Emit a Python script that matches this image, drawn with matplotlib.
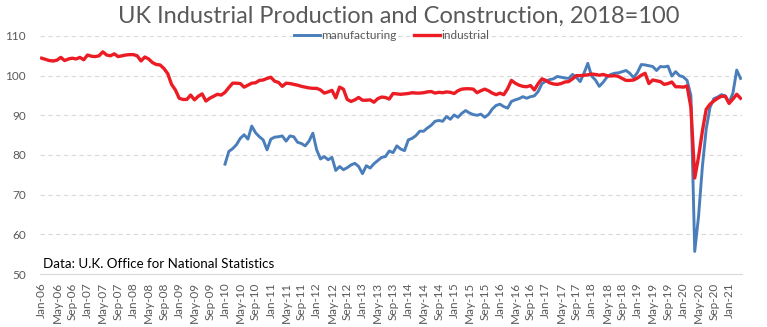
import matplotlib.pyplot as plt
import pandas as pd

# monthly index values, Jan-06 .. Apr-21
months = pd.date_range('2006-01-01', periods=184, freq='MS')

industrial = [
    104.4, 104.1, 103.8, 103.7, 103.9, 104.6, 103.8, 104.2, 104.4, 104.2, 104.6, 104.0,
    105.2, 104.9, 104.8, 105.0, 106.0, 105.2, 105.0, 105.5, 104.8, 105.0, 105.2, 105.3,
    105.3, 105.0, 103.7, 104.7, 104.2, 103.3, 102.8, 102.7, 101.8, 100.5, 97.8, 96.4,
    94.3, 94.0, 94.0, 95.1, 93.9, 94.8, 95.4, 93.6, 94.3, 94.8, 95.3, 95.1,
    95.8, 97.0, 98.1, 98.1, 98.0, 97.1, 97.6, 98.1, 98.2, 98.8, 98.9, 99.3,
    99.6, 98.6, 98.3, 97.3, 98.1, 98.0, 97.8, 97.6, 97.3, 97.1, 96.9, 96.8,
    96.8, 96.4, 95.6, 95.9, 96.3, 94.4, 97.1, 96.6, 94.0, 93.5, 93.9, 94.5,
    93.8, 93.8, 93.9, 93.3, 94.2, 94.6, 94.5, 94.1, 95.5, 95.4, 95.3, 95.4,
    95.5, 95.7, 95.6, 95.6, 95.7, 95.9, 96.0, 95.6, 95.8, 95.7, 95.9, 95.8,
    95.5, 96.2, 96.6, 96.7, 96.7, 96.6, 95.7, 96.2, 96.6, 96.2, 95.6, 95.2,
    95.6, 95.2, 96.7, 98.8, 98.1, 97.6, 97.3, 97.2, 97.5, 96.4, 98.0, 99.2,
    98.8, 98.2, 97.9, 97.8, 98.0, 98.4, 98.5, 99.2, 100.0, 100.0, 100.1, 100.2,
    100.4, 100.3, 100.1, 100.3, 100.0, 99.9, 100.0, 99.8, 99.3, 98.8, 98.8, 98.9,
    99.4, 100.1, 100.6, 98.0, 98.9, 98.7, 98.5, 97.8, 98.0, 98.4, 97.2, 97.2,
    97.1, 97.4, 92.0, 74.2, 79.5, 86.0, 91.5, 92.8, 93.6, 94.3, 94.8, 94.8,
    93.0, 94.1, 95.3, 94.3,
]

# manufacturing starts Jan-10
manufacturing = [None] * 48 + [
    77.7, 80.9, 81.6, 82.6, 84.2, 85.1, 84.0, 87.3, 85.6, 84.6, 83.8, 81.3,
    84.0, 84.5, 84.6, 84.8, 83.5, 84.8, 84.6, 83.2, 82.9, 82.3, 83.5, 85.5,
    81.3, 79.0, 79.6, 78.8, 79.4, 76.1, 77.1, 76.3, 76.8, 77.5, 77.9, 77.1,
    75.3, 77.3, 76.7, 77.8, 78.6, 79.4, 79.6, 81.0, 80.6, 82.3, 81.5, 81.1,
    83.8, 84.2, 84.9, 86.0, 86.0, 86.8, 87.5, 88.5, 88.7, 88.5, 89.7, 89.0,
    90.1, 89.5, 90.5, 91.2, 90.6, 90.2, 90.0, 90.3, 89.5, 90.2, 91.6, 92.5,
    92.8, 92.2, 91.8, 93.5, 93.9, 94.2, 94.7, 94.3, 94.7, 94.9, 96.0, 98.0,
    98.6, 99.0, 99.2, 99.8, 99.6, 99.4, 99.3, 100.3, 99.6, 98.5, 100.6, 103.1,
    99.9, 98.9, 97.3, 98.3, 99.6, 100.3, 100.6, 100.7, 101.0, 101.3, 100.6, 99.5,
    100.8, 102.8, 102.7, 102.5, 102.3, 101.3, 102.3, 102.2, 102.4, 99.9, 101.0, 100.0,
    99.7, 98.8, 95.0, 55.7, 64.5, 77.0, 86.5, 92.0, 94.2, 94.6, 95.2, 94.9,
    93.2, 95.6, 101.4, 99.3,
]

labels = months.strftime('%b-%y')
x = range(len(months))
mf = pd.Series(manufacturing, dtype=float)

plt.rcParams['font.family'] = ['Lato', 'DejaVu Sans']

fig = plt.figure(figsize=(7.67, 3.27), dpi=100)
ax = fig.add_axes([0.0519, 0.162, 0.9161, 0.728])

ax.plot(x, mf, color='#4A7EBB', lw=2.1, label='manufacturing', solid_joinstyle='round')
ax.plot(x, industrial, color='#EC1C24', lw=2.4, label='industrial', solid_joinstyle='round')

ax.set_xlim(-0.5, len(months) - 0.5)
ax.set_ylim(50, 110)
ax.set_yticks(range(50, 111, 10))
ax.set_xticks(range(0, len(months), 4))
ax.set_xticklabels(labels[::4], rotation=90)
ax.tick_params(axis='both', length=0, labelsize=8.5, colors='#595959')
ax.tick_params(axis='y', pad=10)
ax.tick_params(axis='x', pad=6)

ax.grid(axis='y', color='#D9D9D9', ls=(0, (4, 3)), lw=0.8)
for s in ['top', 'right', 'left']:
    ax.spines[s].set_visible(False)
ax.spines['bottom'].set_color('#D9D9D9')

fig.text(0.52, 0.95, 'UK Industrial Production and Construction, 2018=100',
         ha='center', va='center', fontsize=17, color='#595959')
ax.legend(loc='center', bbox_to_anchor=(0.501, 1.0), ncol=2, frameon=False,
          fontsize=8.5, labelcolor='#595959', handlelength=2.2, handletextpad=0.1,
          columnspacing=1.5, borderpad=0)
ax.text(0.004, 0.025, 'Data: U.K. Office for National Statistics', transform=ax.transAxes,
        fontsize=9.6, color='black')

plt.savefig('out.png', dpi=100)
